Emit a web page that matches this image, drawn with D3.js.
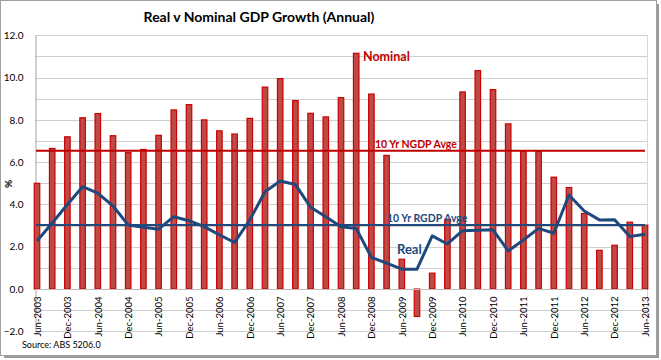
<!DOCTYPE html>
<html>
<head>
<meta charset="utf-8">
<script src="https://cdn.jsdelivr.net/npm/d3@7"></script>
<style>
  body { margin: 0; background: #fff; }
  svg { display: block; }
  text { font-family: Lato, "Open Sans", sans-serif; }
</style>
</head>
<body>
<svg id="chart" width="661" height="360"></svg>
<script>
// Quarterly categories, Jun-2003 .. Jun-2013
const quarters = [
  "Jun-2003","Sep-2003","Dec-2003","Mar-2004","Jun-2004","Sep-2004","Dec-2004","Mar-2005",
  "Jun-2005","Sep-2005","Dec-2005","Mar-2006","Jun-2006","Sep-2006","Dec-2006","Mar-2007",
  "Jun-2007","Sep-2007","Dec-2007","Mar-2008","Jun-2008","Sep-2008","Dec-2008","Mar-2009",
  "Jun-2009","Sep-2009","Dec-2009","Mar-2010","Jun-2010","Sep-2010","Dec-2010","Mar-2011",
  "Jun-2011","Sep-2011","Dec-2011","Mar-2012","Jun-2012","Sep-2012","Dec-2012","Mar-2013",
  "Jun-2013"
];
// Nominal GDP growth (annual, %)
const nominal = [
  5.0, 6.65, 7.2, 8.1, 8.3, 7.25, 6.45, 6.6,
  7.27, 8.47, 8.72, 8.0, 7.48, 7.33, 8.07, 9.55,
  9.95, 8.91, 8.31, 8.14, 9.05, 11.15, 9.22, 6.32,
  1.41, -1.3, 0.75, 3.3, 9.32, 10.33, 9.43, 7.81,
  6.53, 6.5, 5.29, 4.8, 3.57, 1.83, 2.07, 3.16,
  3.02
];
// Real GDP growth (annual, %)
const real = [
  2.27, 3.12, 4.0, 4.84, 4.53, 3.93, 3.03, 2.92,
  2.83, 3.42, 3.23, 2.95, 2.56, 2.2, 3.27, 4.6,
  5.11, 4.94, 3.87, 3.42, 2.95, 2.86, 1.5, 1.22,
  0.94, 0.94, 2.51, 2.13, 2.76, 2.78, 2.8, 1.8,
  2.32, 2.87, 2.64, 4.45, 3.69, 3.27, 3.28, 2.48,
  2.59
];
const ngdpAvg = 6.54;   // 10 Yr NGDP Avge
const rgdpAvg = 3.03;   // 10 Yr RGDP Avge
const yTicks = [-2, 0, 2, 4, 6, 8, 10, 12];
const yGrid = d3.range(-2, 12.01, 1);
const xLabels = quarters.filter((d, i) => i % 2 === 0);

const svg = d3.select("#chart");

// outer frame with shadow
svg.append("rect").attr("x", 4).attr("y", 4).attr("width", 655).attr("height", 354).attr("fill", "#9a9a9a");
svg.append("rect").attr("x", 0.5).attr("y", 0.5).attr("width", 656).attr("height", 355)
  .attr("fill", "#fff").attr("stroke", "#a0a0a0");

const plot = { left: 35, right: 647, top: 35.3, bottom: 331.3 };

const x = d3.scalePoint().domain(quarters).range([37, 645]);
const y = d3.scaleLinear().domain([-2, 12]).range([plot.bottom, plot.top]);

// gridlines
svg.append("g").selectAll("line").data(yGrid).join("line")
  .attr("x1", plot.left).attr("x2", plot.right)
  .attr("y1", d => Math.round(y(d)) + 0.5).attr("y2", d => Math.round(y(d)) + 0.5)
  .attr("stroke", "#cfcfcf").attr("stroke-width", 1);

// right plot border
svg.append("line").attr("x1", plot.right + 0.5).attr("x2", plot.right + 0.5)
  .attr("y1", plot.top).attr("y2", plot.bottom).attr("stroke", "#d8d8d8");

// y axis
const yAxis = d3.axisLeft(y).tickValues(yTicks).tickFormat(d3.format(".1f")).tickSize(0).tickPadding(12);
const gy = svg.append("g").attr("transform", `translate(${plot.left + 0.5},0)`).call(yAxis);
gy.select(".domain").attr("stroke", "#a6a6a6");
gy.selectAll("text").attr("font-size", 10).attr("fill", "#000").attr("font-family", "Lato, sans-serif");

// "%" label
svg.append("text").attr("transform", "translate(12,184) rotate(-90)")
  .attr("text-anchor", "middle").attr("font-size", 10).attr("font-weight", "bold").text("%");

// bars
const barW = 5.5;
svg.append("g").selectAll("rect").data(nominal).join("rect")
  .attr("x", (d, i) => x(quarters[i]) - barW / 2)
  .attr("y", d => y(Math.max(0, d)))
  .attr("width", barW)
  .attr("height", d => Math.abs(y(d) - y(0)))
  .attr("fill", "#bd4a47")
  .attr("stroke", "#cc0000").attr("stroke-width", 1.2);

// x axis line at 0
svg.append("line").attr("x1", plot.left).attr("x2", plot.right)
  .attr("y1", Math.round(y(0)) + 0.5).attr("y2", Math.round(y(0)) + 0.5)
  .attr("stroke", "#bfbfbf");

// x labels (rotated)
const xAxis = d3.axisBottom(x).tickValues(xLabels).tickSize(0).tickPadding(0);
const gx = svg.append("g").attr("transform", `translate(0,${y(0) + 7.5})`).call(xAxis);
gx.select(".domain").remove();
gx.selectAll("text")
  .attr("transform", "rotate(-90)")
  .attr("text-anchor", "end")
  .attr("dy", "0.35em").attr("x", 0).attr("y", 0)
  .attr("font-size", 9.5).attr("fill", "#000").attr("font-family", "Lato, sans-serif");

// average lines
const avgColorN = "#c00000", avgColorR = "#1f497d";
svg.append("line").attr("x1", x(quarters[0]) - 1).attr("x2", x(quarters[quarters.length - 1]))
  .attr("y1", y(ngdpAvg)).attr("y2", y(ngdpAvg)).attr("stroke", avgColorN).attr("stroke-width", 2);
svg.append("line").attr("x1", x(quarters[0]) - 1).attr("x2", x(quarters[quarters.length - 1]))
  .attr("y1", y(rgdpAvg)).attr("y2", y(rgdpAvg)).attr("stroke", avgColorR).attr("stroke-width", 2);

// real line
const line = d3.line().x((d, i) => x(quarters[i])).y(d => y(d));
svg.append("path").datum(real).attr("d", line)
  .attr("fill", "none").attr("stroke", avgColorR).attr("stroke-width", 3)
  .attr("stroke-linejoin", "round");

// annotations
svg.append("text").attr("x", 363).attr("y", 61).attr("fill", "#c00000")
  .attr("font-size", 12.5).attr("font-weight", "bold").text("Nominal");
svg.append("text").attr("x", 375).attr("y", 147.5).attr("fill", "#c00000")
  .attr("font-size", 10.5).attr("font-weight", "bold").text("10 Yr NGDP Avge");
svg.append("text").attr("x", 387).attr("y", 222).attr("fill", "#1f497d")
  .attr("font-size", 10.5).attr("font-weight", "bold").text("10 Yr RGDP Avge");
svg.append("text").attr("x", 397).attr("y", 254).attr("fill", "#1f497d")
  .attr("font-size", 13).attr("font-weight", "bold").text("Real");

// title
svg.append("text").attr("x", 259).attr("y", 22).attr("text-anchor", "middle")
  .attr("font-size", 14).attr("font-weight", "bold").text("Real v Nominal GDP Growth (Annual)");

// source
svg.append("text").attr("x", 22).attr("y", 348).attr("font-size", 9).text("Source: ABS 5206.0");
</script>
</body>
</html>
